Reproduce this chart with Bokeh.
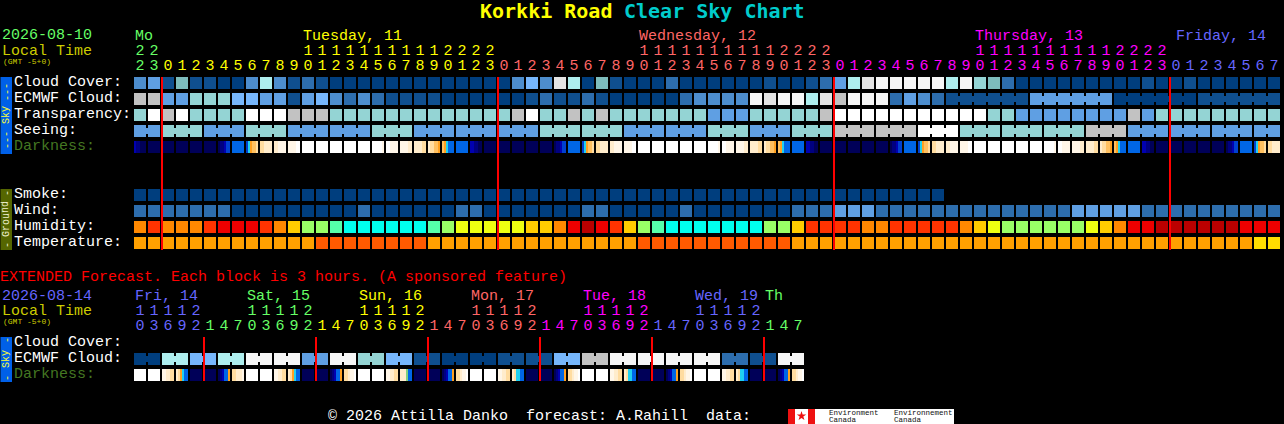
from bokeh.plotting import figure
from bokeh.models import Range1d
from bokeh.core.properties import value
from bokeh.embed import file_html
from bokeh.resources import INLINE

# ---------------- data ----------------
TITLE_A = "Korkki Road"
TITLE_B = "Clear Sky Chart"
HOURS = [22, 23,
         0, 1, 2, 3, 4, 5, 6, 7, 8, 9, 10, 11, 12, 13, 14, 15, 16, 17, 18, 19, 20, 21, 22, 23,
         0, 1, 2, 3, 4, 5, 6, 7, 8, 9, 10, 11, 12, 13, 14, 15, 16, 17, 18, 19, 20, 21, 22, 23,
         0, 1, 2, 3, 4, 5, 6, 7, 8, 9, 10, 11, 12, 13, 14, 15, 16, 17, 18, 19, 20, 21, 22, 23,
         0, 1, 2, 3, 4, 5, 6, 7]
HOURS_EXT = [10, 13, 16, 19, 22, 1, 4, 7, 10, 13, 16, 19, 22, 1, 4, 7,
             10, 13, 16, 19, 22, 1, 4, 7, 10, 13, 16, 19, 22, 1, 4, 7,
             10, 13, 16, 19, 22, 1, 4, 7, 10, 13, 16, 19, 22, 1, 4, 7]

# sky palette keys: 0 clear ... w white
CLOUD = [3,4,1,7,1,1,0,0,3,8,3,1,2,1,0,0,0,0,0,0,0,0,0,0,0,0,0,3,5,3,"e",8,0,7,1,0,0,0,2,0,0,0,0,0,0,1,0,0,1,2,4,8,
         "e","f","f","f","f","f",8,"f",6,7,2,0,0,0,0,0,0,0,0,0,1,0,0,1,0,0,0,0,0,0]
ECMWF = [9,9,4,4,6,6,6,5,5,4,4,1,4,5,3,2,3,2,1,1,1,1,0,0,0,0,0,0,1,2,1,1,2,1,0,0,0,0,0,2,3,3,3,3,"f","e","f","f",8,"e",9,"f",
         "f","f",2,4,3,2,1,1,1,1,1,1,4,4,4,4,4,4,0,0,0,0,0,0,1,1,1,1,1,1]
TRANSP = [6,"w",9,"w",6,6,6,6,"w","w","w",9,9,9,6,6,6,6,6,6,6,6,6,6,6,6,6,9,"w",6,6,9,6,9,6,6,6,6,6,6,6,4,4,4,6,6,6,6,6,9,"w","w",
          "w","w","w","w","w","w","w","w","w",6,6,4,4,4,4,4,4,4,4,9,4,6,6,6,6,6,6,6,6,6]
SEEING = [4,4, 6,6,6, 4,4,4, 6,6,6, 4,4,4, 4,4,4, 6,6,6, 4,4,4, 4,4,4, 4,4,4, 6,6,6, 6,6,6, 4,4,4, 4,4,4, 6,6,6, 4,4,4, 6,6,6,
          9,9,9, 9,9,9, "w","w","w", 6,6,6, 6,6,6, 6,6,6, 9,9,9, 4,4,4, 4,4,4, 4,4,4, 4,4]
SMOKE = [0] * 58
WIND = [2,2,2,2,2,2,2,0,0,0,0,0,0,0,0,0,2,0,0,0,0,0,0,2,2,0,0,0,0,0,0,0,2,2,0,0,0,0,0,2,0,0,0,0,0,0,0,2,2,2,4,4,
        4,2,2,2,2,2,2,2,2,2,2,2,2,2,2,4,4,4,4,4,2,2,2,2,2,2,2,2,2,2]
HUMIDITY = [5,6,5,5,5,6,7,7,7,6,5,4,2,2,1,0,0,0,0,0,0,1,2,3,3,3,3,3,4,4,5,7,8,7,6,4,2,1,0,0,0,0,0,0,0,2,2,4,6,6,6,6,
            5,5,6,6,6,6,6,5,4,3,2,2,2,2,2,2,3,4,5,7,7,8,8,8,8,8,8,7,7,7]
TEMPERATURE = [0,0,0,0,0,0,0,0,0,0,0,0,0,1,1,1,1,1,1,1,1,0,0,0,0,0,0,0,0,0,0,0,0,0,0,0,1,1,1,1,1,1,1,1,1,1,1,0,0,0,0,0,
               0,0,0,0,0,0,0,0,0,0,0,0,0,0,0,0,0,0,0,0,0,0,0,0,0,0,0,0,2,2]
DARKNESS = ["211000", "000000",
            "000000","000000","000000","000000","011233","444444","356778","889999","99aaaa","aaaabb","bbbbbb","bbbbbb",
            "bbbbbb","bbbbbb","bbbbbb","bbbbba","bbaaaa","aaaa99","999988","988776","765444","444444","221100","000000",
            "000000","000000","000000","000000","011233","444444","356778","889999","99aaaa","aaaabb","bbbbbb","bbbbbb",
            "bbbbbb","bbbbbb","bbbbbb","bbbbba","bbaaaa","aaaa99","999988","988776","765444","444444","221100","000000",
            "000000","000000","000000","000000","011233","444444","356778","889999","99aaaa","aaaabb","bbbbbb","bbbbbb",
            "bbbbbb","bbbbbb","bbbbbb","bbbbba","bbaaaa","aaaa99","999988","988776","765444","444444","221100","000000",
            "000000","000000","000000","000000","011233","444444","356778","889999"]
ECMWF_EXT = [0,0,8,8,5,5,8,8,"f","f","f","f",4,4,"f","f",6,6,5,5,1,1,0,0,0,0,1,1,1,1,5,5,9,9,"f","f","f","f","f","f","f","f",2,2,1,1,"f","f"]
DARKNESS_EXT = ["bbbbbb","bbbbbb","aa9988","986544","000000","000000","012446","88999a",
                "bbbbbb","bbbbbb","aa9988","986544","000000","000000","012446","889aab",
                "bbbbbb","bbbbbb","aa9988","999c44","000000","000000","012446","889aab",
                "bbbbbb","bbbbbb","aa9988","985544","000000","000000","012446","889aab",
                "bbbbbb","bbbbbb","aa9988","985544","000000","000000","012446","889aab",
                "bbbbbb","bbbbbb","aa9988","985544","000000","000000","012446","889aab"]

MAIN_DAYS = [("Mo", 135, "#66ff66"), ("Tuesday, 11", 303, "#ffff00"), ("Wednesday, 12", 639, "#ff6666"),
             ("Thursday, 13", 975, "#ff00ff"), ("Friday, 14", 1176, "#6666ff")]
EXT_DAYS = [("Fri, 14", 135, "#6666ff"), ("Sat, 15", 247, "#66ff66"), ("Sun, 16", 359, "#ffff00"),
            ("Mon, 17", 471, "#ff6666"), ("Tue, 18", 583, "#ff00ff"), ("Wed, 19", 695, "#6666ff"), ("Th", 765, "#66ff66")]
MAIN_DAY_COLOR_CELLS = [(0, "#66ff66"), (2, "#ffff00"), (26, "#ff6666"), (50, "#ff00ff"), (74, "#6666ff")]
EXT_DAY_COLOR_CELLS = [(0, "#6666ff"), (5, "#66ff66"), (13, "#ffff00"), (21, "#ff6666"), (29, "#ff00ff"), (37, "#6666ff"), (45, "#66ff66")]

# ---------------- styles ----------------
SKY = {0: "#003e7e", 1: "#0f4f8f", 2: "#2d6dad", 3: "#4d8dcd", 4: "#5f9fe3", 5: "#76b6fb", 6: "#94d4d4",
       7: "#7dbdbd", 8: "#aeeeee", 9: "#c2c2c2", "e": "#e4e4e4", "f": "#f6f6f6", "w": "#ffffff"}
HUM = ["#00ffee", "#55ffaa", "#99ff66", "#eeff11", "#ffcc00", "#ff8800", "#ff3300", "#ee0000", "#bb0000"]
TMP = ["#ffa000", "#ff5a00", "#ffdd00"]
DARK = {"0": "#000058", "1": "#000080", "2": "#0000b0", "3": "#0040d0", "4": "#0066e6", "5": "#20d0f0",
        "6": "#ffa020", "7": "#ffc060", "8": "#ffdca0", "9": "#ffeccc", "a": "#fff6e8", "b": "#ffffff", "c": "#80d080"}
FONT = "Liberation Mono"
TITLE_FONT = "DejaVu Sans Mono"
X0, PITCH, CELL = 134, 14, 12

# half-pixel ranges: the page translates by 0.5px, so this keeps edges on whole pixels
p = figure(width=1284, height=424, output_backend="svg", toolbar_location=None,
           x_range=Range1d(0.5, 1284.5), y_range=Range1d(424.5, 0.5), min_border=0,
           background_fill_color="black", border_fill_color="black", outline_line_color=None)
p.axis.visible = False
p.grid.visible = False
p.styles = {"background-color": "black"}


def cell_row(vals, y, colors, block=None):
    l, r, t, b, c = [], [], [], [], []
    for i, v in enumerate(vals):
        x = X0 + PITCH * i
        l.append(x); r.append(x + CELL); t.append(y); b.append(y + CELL); c.append(colors[v])
        if block and i + 1 < len(vals) and block(i) == block(i + 1):
            l.append(x + CELL); r.append(x + PITCH); t.append(y + 3); b.append(y + 9); c.append(colors[v])
    p.quad(left=l, right=r, top=t, bottom=b, fill_color=c, line_color=None)


def dark_row(vals, y):
    l, r, c = [], [], []
    for i, s in enumerate(vals):
        step = CELL / len(s)
        for j, k in enumerate(s):
            x = X0 + PITCH * i + j * step
            l.append(x); r.append(x + step); c.append(DARK[k])
    p.quad(left=l, right=r, top=y, bottom=y + CELL, fill_color=c, line_color=None)


def label(txt, x, y, color, size=15, bold=False, align="left", font=FONT):
    # y is the baseline wanted in the picture; strings with letters sit a little high in this renderer
    nudge = 1.7 if size == 15 and any(ch.isalpha() for ch in txt) else 0
    p.text(x=[x], y=[y - 0.36 * size + nudge], text=[txt], text_color=color, text_font=value(font), text_font_size=f"{size}px",
           text_font_style="bold" if bold else "normal", text_align=align, text_baseline="alphabetic")


def hour_labels(hours, day_cells, y_tens, y_units):
    for i, h in enumerate(hours):
        col = [c for s, c in day_cells if s <= i][-1]
        x = X0 + PITCH * i + CELL / 2
        if h >= 10:
            label(str(h // 10), x, y_tens, col, align="center")
        label(str(h % 10), x, y_units, col, align="center")


# strips
p.quad(left=0, right=12, top=77, bottom=154, fill_color="#0060e8", line_color=None)
p.quad(left=0, right=12, top=189, bottom=250, fill_color="#556600", line_color=None)
p.quad(left=0, right=12, top=337, bottom=382, fill_color="#0060e8", line_color=None)
ROT = 1.5708
for txt, yy, col in [("---", 92, "#ffff33"), ("Sky", 115, "#ffff33"), ("---", 140, "#ffff33"),
                     ("-", 193, "#eeeecc"), ("Ground", 219, "#eeeecc"), ("-", 245, "#eeeecc"),
                     ("-", 340, "#ffff33"), ("Sky", 359, "#ffff33"), ("-", 378, "#ffff33")]:
    p.text(x=[6], y=[yy], text=[txt], text_color=col, text_font=value(FONT), text_font_size="10px",
           text_align="center", text_baseline="alphabetic", angle=ROT)

# main rows
cell_row(CLOUD, 77, SKY)
cell_row(ECMWF, 93, SKY, lambda i: (i - 58) // 6 if i >= 58 else -i - 1)
cell_row(TRANSP, 109, SKY)
cell_row(SEEING, 125, SKY, lambda i: (i - 2) // 3)
dark_row(DARKNESS, 141)
cell_row(SMOKE, 189, SKY)
cell_row(WIND, 205, SKY)
cell_row(HUMIDITY, 221, HUM)
cell_row(TEMPERATURE, 237, TMP)
cell_row(ECMWF_EXT, 353, SKY, lambda i: i // 2)
dark_row(DARKNESS_EXT, 369)

# midnight lines
for s, _c in MAIN_DAY_COLOR_CELLS[1:]:
    x = X0 + PITCH * s
    p.segment(x0=[x], y0=[77], x1=[x], y1=[250], line_color="#ff0000", line_width=2)
for s, _c in EXT_DAY_COLOR_CELLS[1:]:
    x = X0 + PITCH * s
    p.segment(x0=[x], y0=[337], x1=[x], y1=[381], line_color="#ff0000", line_width=2)

# title
label(TITLE_A, 480, 18, "#ffff00", size=20, bold=True, font=TITLE_FONT)
label(TITLE_B, 624, 18, "#00cccc", size=20, bold=True, font=TITLE_FONT)

# headers
label("2026-08-10", 2, 39.5, "#66ff66")
label("Local Time", 2, 55, "#cccc00")
label("(GMT -5+0)", 3, 64, "#cccc00", size=8)
for t, x, c in MAIN_DAYS:
    label(t, x, 40, c)
hour_labels(HOURS, MAIN_DAY_COLOR_CELLS, 55, 70)

for t, y, c in [("Cloud Cover:", 86, "white"), ("ECMWF Cloud:", 102, "white"), ("Transparency:", 118, "white"),
                ("Seeing:", 134, "white"), ("Darkness:", 150, "#447722"), ("Smoke:", 198, "white"), ("Wind:", 214, "white"),
                ("Humidity:", 230, "white"), ("Temperature:", 246, "white"),
                ("Cloud Cover:", 346, "white"), ("ECMWF Cloud:", 362, "white"), ("Darkness:", 378, "#447722")]:
    label(t, 14, y, c)

label("EXTENDED Forecast. Each block is 3 hours. (A sponsored feature)", 0, 281, "#ff0000")
label("2026-08-14", 2, 300, "#6666ff")
label("Local Time", 2, 315, "#cccc00")
label("(GMT -5+0)", 3, 324, "#cccc00", size=8)
for t, x, c in EXT_DAYS:
    label(t, x, 300, c)
hour_labels(HOURS_EXT, EXT_DAY_COLOR_CELLS, 315, 330)

# footer
label("\u00a9 2026 Attilla Danko", 328, 420, "white")
label("forecast: A.Rahill", 526, 420, "white")
label("data:", 706, 420, "white")
p.quad(left=788, right=954, top=409, bottom=424, fill_color="white", line_color=None)
p.quad(left=[788, 808], right=[795, 815], top=409, bottom=424, fill_color="#ee1111", line_color=None)
p.scatter(x=[801.5], y=[416], marker="star", size=10, fill_color="#ee1111", line_color=None)
for t, x, y in [("Environment", 829, 416), ("Canada", 829, 423), ("Environnement", 894, 416), ("Canada", 894, 423)]:
    label(t, x, y, "#111111", size=7.5)

open("out.html", "w").write(file_html(p, INLINE))
